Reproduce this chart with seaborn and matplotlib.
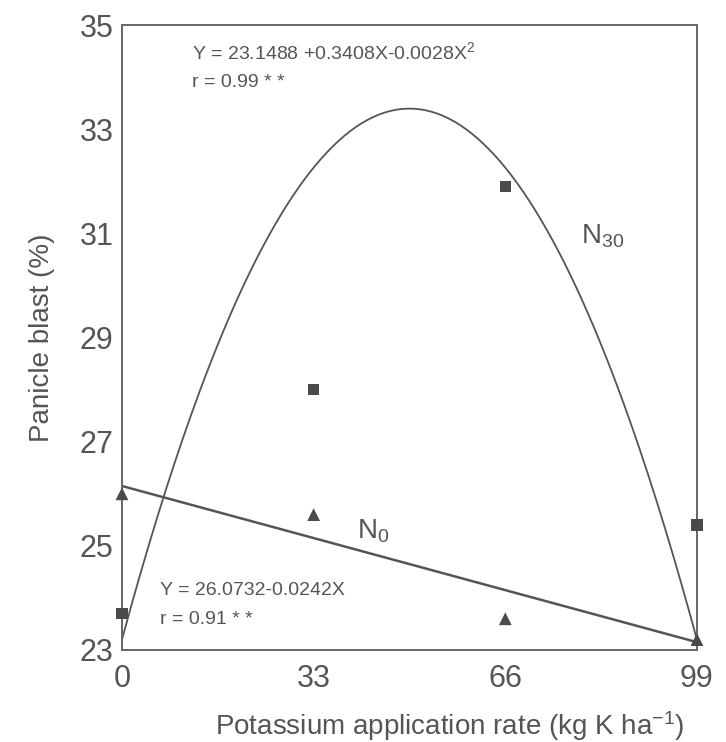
import numpy as np
import pandas as pd
import seaborn as sns
import matplotlib.pyplot as plt

# potassium levels and measured panicle blast (%)
k_rate = [0, 33, 66, 99]
blast_n30 = [23.7, 28.0, 31.9, 25.4]
blast_n0 = [26.0, 25.6, 23.6, 23.2]

# fitted curves as drawn in the figure
n0_line_x = [0, 99]
n0_line_y = [26.15, 23.15]
n30_coef = [-0.004163, 0.4121, 23.2]  # quadratic drawn for N30

sns.set_style("white")
plt.rcParams["font.family"] = ["Liberation Sans", "DejaVu Sans"]
plt.rcParams["mathtext.default"] = "regular"
grey = "#555555"

fig = plt.figure(figsize=(7.26, 7.42), dpi=100)
ax = fig.add_axes([0.168, 0.124, 0.792, 0.842])

xs = np.linspace(0, 99, 200)
curve = pd.DataFrame({"x": xs, "y": np.polyval(n30_coef, xs)})
sns.lineplot(data=curve, x="x", y="y", color=grey, lw=1.3, ax=ax)
sns.lineplot(x=n0_line_x, y=n0_line_y, color=grey, lw=1.8, ax=ax)

sns.scatterplot(x=k_rate, y=blast_n30, marker="s", s=65, color="#4a4a4a",
                edgecolor="none", ax=ax, clip_on=False, zorder=5)
sns.scatterplot(x=k_rate, y=blast_n0, marker="^", s=85, color="#4a4a4a",
                edgecolor="none", ax=ax, clip_on=False, zorder=5)

ax.set_xlim(0, 99)
ax.set_ylim(23, 35)
ax.set_xticks([0, 33, 66, 99])
ax.set_yticks([23, 25, 27, 29, 31, 33, 35])
ax.tick_params(direction="in", length=10, width=1.2, colors=grey,
               labelsize=22)
ax.tick_params(axis="x", pad=10)
ax.tick_params(axis="y", pad=6)
for sp in ax.spines.values():
    sp.set_color("#666666")
    sp.set_linewidth(1.4)

ax.set_xlabel("Potassium application rate (kg K ha$^{-1}$)", fontsize=20,
              color=grey)
ax.xaxis.set_label_coords(0.57, -0.095)
ax.set_ylabel("Panicle blast (%)", fontsize=20, color=grey, labelpad=18)

ax.text(12, 34.48, "Y = 23.1488 +0.3408X-0.0028X$^2$", fontsize=14,
        color=grey, va="center")
ax.text(12, 33.9, "r = 0.99 * *", fontsize=14, color=grey, va="center")
ax.text(6.5, 24.15, "Y = 26.0732-0.0242X", fontsize=14, color=grey,
        va="center")
ax.text(6.5, 23.58, "r = 0.91 * *", fontsize=14, color=grey, va="center")
ax.text(79, 30.8, "N$_{30}$", fontsize=20, color=grey)
ax.text(40.5, 25.15, "N$_0$", fontsize=20, color=grey)

plt.savefig("out.png", dpi=100)
